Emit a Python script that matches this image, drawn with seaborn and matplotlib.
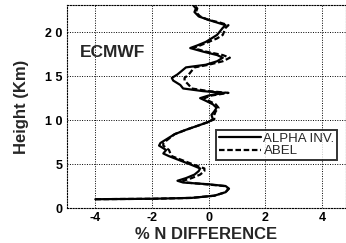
import matplotlib
matplotlib.use("Agg")
import matplotlib.pyplot as plt
import seaborn as sns
import pandas as pd

height_alpha = [1.0, 1.05, 1.15, 1.4, 1.8, 2.2, 2.5, 2.7, 2.9, 3.1, 3.4, 3.8, 4.2, 4.5, 4.9, 5.4, 5.9, 6.2, 6.6,
                7.1, 7.4, 7.9, 8.4, 8.9, 9.4, 9.8, 10.1, 10.6, 11.0, 11.4, 11.8, 12.2, 12.5, 12.8, 13.1, 13.3,
                13.6, 14.0, 14.5, 14.8, 15.2, 15.6, 16.0, 16.3, 16.7, 17.1, 17.4, 17.8, 18.2, 18.5, 18.9, 19.3,
                19.7, 20.1, 20.5, 20.8, 21.1, 21.4, 21.8, 22.3, 22.7, 23.1]
alpha_inv = [-4.0, -2.0, -0.6, 0.2, 0.6, 0.72, 0.6, 0.0, -0.9, -1.1, -0.8, -0.5, -0.35, -0.3, -0.6, -1.0, -1.4,
             -1.6, -1.5, -1.75, -1.7, -1.45, -1.2, -0.8, -0.35, 0.0, 0.15, 0.1, 0.2, 0.28, 0.15, -0.1, -0.3, 0.0,
             0.55, -0.2, -0.9, -1.0, -1.25, -1.3, -1.1, -0.95, -0.8, -0.1, 0.3, 0.5, 0.3, -0.2, -0.65, -0.4, -0.1,
             0.1, 0.3, 0.4, 0.5, 0.6, 0.3, 0.0, -0.35, -0.5, -0.45, -0.55]
height_abel = height_alpha
abel = [-4.0, -2.0, -0.6, 0.2, 0.6, 0.7, 0.55, -0.1, -0.8, -0.9, -0.6, -0.3, -0.15, -0.15, -0.5, -0.9, -1.3,
        -1.35, -1.4, -1.6, -1.6, -1.4, -1.2, -0.8, -0.35, 0.0, 0.2, 0.2, 0.25, 0.35, 0.25, 0.0, -0.15, 0.1,
        0.7, 0.0, -0.6, -0.7, -0.85, -0.85, -0.7, -0.6, -0.5, 0.0, 0.5, 0.75, 0.5, -0.1, -0.55, -0.3, 0.0,
        0.3, 0.5, 0.55, 0.6, 0.7, 0.4, 0.0, -0.3, -0.45, -0.4, -0.5]
x_ticks = [-4, -2, 0, 2, 4]
y_ticks = [0, 5, 10, 15, 20]
y_tick_labels = ["0", "5", "1 0", "1 5", "2 0"]

sns.set_theme(style="white")
plt.rcParams["font.family"] = ["Liberation Sans", "DejaVu Sans"]

df = pd.concat([
    pd.DataFrame({"diff": alpha_inv, "height": height_alpha, "series": "ALPHA INV."}),
    pd.DataFrame({"diff": abel, "height": height_abel, "series": "ABEL"}),
])

fig = plt.figure(figsize=(3.46, 2.43), dpi=100)
ax = fig.add_axes([67 / 346, 35 / 243, 279 / 346, 203 / 243])

sns.lineplot(data=df, x="diff", y="height", hue="series", style="series",
             palette={"ALPHA INV.": "black", "ABEL": "black"},
             dashes={"ALPHA INV.": "", "ABEL": (2.5, 1.2)},
             sort=False, estimator=None, orient="y", linewidth=1.6, ax=ax)

ax.set_xlim(-5, 4.85)
ax.set_ylim(0, 23.1)
ax.set_xticks(x_ticks)
ax.set_xticklabels([str(t) for t in x_ticks], fontweight="bold", fontsize=9)
ax.set_yticks(y_ticks)
ax.set_yticklabels(y_tick_labels, fontweight="bold", fontsize=9)
ax.tick_params(length=0, pad=3, colors="black")
ax.grid(True, linestyle=(0, (1, 1.5)), color="black", linewidth=0.7)
for s in ax.spines.values():
    s.set_linestyle((0, (1, 1.5)))
    s.set_color("black")
    s.set_linewidth(0.8)

ax.set_xlabel("% N DIFFERENCE", fontsize=12, fontweight="bold", labelpad=2)
ax.set_ylabel("Height (Km)", fontsize=12, fontweight="bold", labelpad=12)
ax.text(-4.55, 17.7, "ECMWF", fontsize=12.5, fontweight="bold", va="center", ha="left")

leg = ax.legend(loc="upper left", bbox_to_anchor=(0.534, 0.384), frameon=True, fancybox=False,
                fontsize=9.5, handlelength=3.2, handletextpad=0.2, borderpad=0.2,
                labelspacing=0.0, borderaxespad=0)
leg.get_frame().set_edgecolor("black")
leg.get_frame().set_linewidth(1.4)

fig.savefig("out.png", dpi=100)
